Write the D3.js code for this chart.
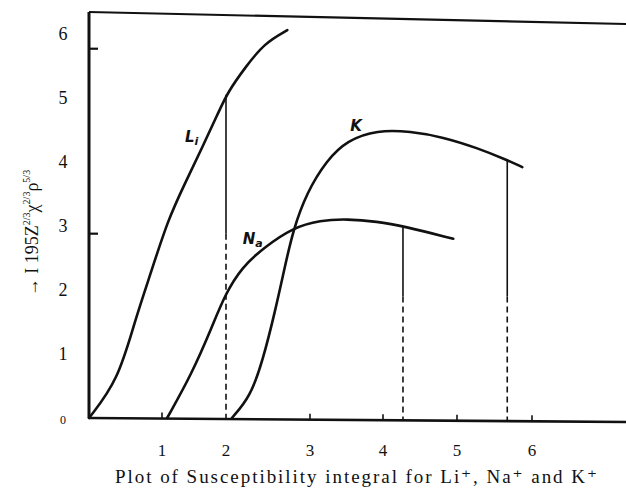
<!DOCTYPE html>
<html>
<head>
<meta charset="utf-8">
<script src="https://cdn.jsdelivr.net/npm/d3@7"></script>
<style>
  body { margin: 0; background: #fff; }
  svg { display: block; }
  text { font-family: "Liberation Serif", "DejaVu Serif", serif; fill: #111; }
  .curve { fill: none; stroke: #111; stroke-width: 2.6; stroke-linecap: round; }
  .drop { stroke: #111; stroke-width: 1.6; }
  .lbl { font-family: "DejaVu Sans", sans-serif; font-style: italic; font-weight: bold; }
</style>
</head>
<body>
<div id="chart"></div>
<script>
// curves, in axis units
var liPoints = [[0, 0], [0.4, 0.59], [0.63, 1.53], [0.86, 2.31], [1.09, 3.09], [1.36, 3.67],
  [1.63, 4.23], [1.88, 4.77], [2.02, 5.09], [2.23, 5.48], [2.46, 5.86], [2.73, 6.06]]
var naPoints = [[1.08, 0], [1.47, 0.7], [1.78, 1.42], [1.98, 1.92], [2.19, 2.36], [2.46, 2.67],
  [2.79, 2.97], [3.14, 3.09], [3.51, 3.11], [3.92, 3.07], [4.27, 3.0], [4.95, 2.8]]
var kPoints = [[2.07, 0], [2.29, 0.33], [2.44, 0.91], [2.58, 1.64], [2.7, 2.36], [2.8, 2.94],
  [2.96, 3.52], [3.23, 4.03], [3.51, 4.34], [3.92, 4.5], [4.37, 4.48], [4.81, 4.39],
  [5.27, 4.22], [5.67, 4.03], [5.87, 3.92]]

// vertical drop lines: x, top value, value where solid turns into dashed
var drops = [
  {x: 2.0, top: 5.05, split: 2.88},
  {x: 4.27, top: 3.0, split: 1.9},
  {x: 5.67, top: 4.03, split: 1.9},
]

var curveLabels = [
  {name: 'L', sub: 'i', x: 1.36, y: 4.32},
  {name: 'N', sub: 'a', x: 2.2, y: 2.72},
  {name: 'K', x: 3.55, y: 4.48},
]

var xTicks = [1, 2, 3, 4, 5, 6]
var xTickMarks = [1, 3, 4, 5, 6]
var yTicks = [0, 1, 2, 3, 4, 5, 6]
var yTickMarks = [2.88, 5.77]

var width = 626, height = 490

var svg = d3.select('#chart').append('svg')
  .attr('width', width)
  .attr('height', height)

// the hand drawn axis is not evenly spaced
var x = d3.scaleLinear()
  .domain([0, 1, 2, 3, 4, 5, 6])
  .range([89, 162, 226, 310, 383, 457, 532])
var y = d3.scaleLinear()
  .domain([0, 6])
  .range([418, 34])

// bottom rule sinks by 4px across the page
var tilt = px => (px - x(0)) * 4 / (width - x(0))

// basis spline smooths out the reading noise
var line = d3.line()
  .x(d => x(d[0]))
  .y(d => y(d[1]))
  .curve(d3.curveBasis)

// frame: top rule, left axis, bottom axis
svg.append('path')
  .attr('d', `M${x(0)},12 L${width},24`)
  .attr('stroke', '#111').attr('stroke-width', 2.2).attr('fill', 'none')
svg.append('path')
  .attr('d', `M${x(0)},12 V${y(0)}`)
  .attr('stroke', '#111').attr('stroke-width', 3).attr('fill', 'none')
svg.append('path')
  .attr('d', `M${x(0)},${y(0)} L${width},${y(0) + tilt(width)}`)
  .attr('stroke', '#111').attr('stroke-width', 2.6).attr('fill', 'none')

svg.append('g').selectAll('line')
  .data(xTickMarks)
  .join('line')
  .attr('x1', d => x(d)).attr('x2', d => x(d))
  .attr('y1', d => y(0) + tilt(x(d)))
  .attr('y2', d => y(0) + tilt(x(d)) - 6)
  .attr('stroke', '#111').attr('stroke-width', 1.6)

svg.append('g').selectAll('line')
  .data(yTickMarks)
  .join('line')
  .attr('x1', x(0)).attr('x2', x(0) + 9)
  .attr('y1', d => y(d)).attr('y2', d => y(d))
  .attr('stroke', '#111').attr('stroke-width', 2.2)

svg.append('g').selectAll('text')
  .data(xTicks)
  .join('text')
  .attr('x', d => x(d))
  .attr('y', 456)
  .attr('text-anchor', 'middle')
  .attr('font-size', 17)
  .text(d => d)

svg.append('g').selectAll('text')
  .data(yTicks)
  .join('text')
  .attr('x', 63)
  .attr('y', d => y(d) + 6)
  .attr('text-anchor', 'middle')
  .attr('font-size', d => d == 0 ? 12 : 18)
  .text(d => d)

// drop lines, solid on top then dashed to the axis
drops.forEach(d => {
  svg.append('line').attr('class', 'drop')
    .attr('x1', x(d.x)).attr('x2', x(d.x))
    .attr('y1', y(d.top)).attr('y2', y(d.split))
  svg.append('line').attr('class', 'drop')
    .attr('x1', x(d.x)).attr('x2', x(d.x))
    .attr('y1', y(d.split)).attr('y2', y(0) + tilt(x(d.x)))
    .attr('stroke-dasharray', '6,4')
})

;[liPoints, naPoints, kPoints].forEach(pts => {
  svg.append('path').attr('class', 'curve').attr('d', line(pts))
})

curveLabels.forEach(d => {
  var t = svg.append('text').attr('class', 'lbl')
    .attr('x', x(d.x)).attr('y', y(d.y))
    .attr('font-size', 15)
    .text(d.name)
  if (d.sub) t.append('tspan').attr('font-size', 11).attr('dy', 3).text(d.sub)
})

// axis titles
svg.append('text')
  .attr('x', 115).attr('y', 483)
  .attr('font-size', 19)
  .attr('textLength', 482)
  .attr('lengthAdjust', 'spacing')
  .text('Plot of Susceptibility integral for Li\u207A, Na\u207A and K\u207A')

var yt = svg.append('text')
  .attr('transform', 'translate(38,233) rotate(-90)')
  .attr('text-anchor', 'middle')
  .attr('font-size', 18)
yt.append('tspan').text('\u2192 I 195Z')
yt.append('tspan').attr('font-size', 10).attr('dy', -8).text('2/3')
yt.append('tspan').attr('dy', 8).text('\u03C7')
yt.append('tspan').attr('font-size', 10).attr('dy', -8).text('2/3')
yt.append('tspan').attr('dy', 8).text('\u03C1')
yt.append('tspan').attr('font-size', 10).attr('dy', -8).text('5/3')
</script>
</body>
</html>
